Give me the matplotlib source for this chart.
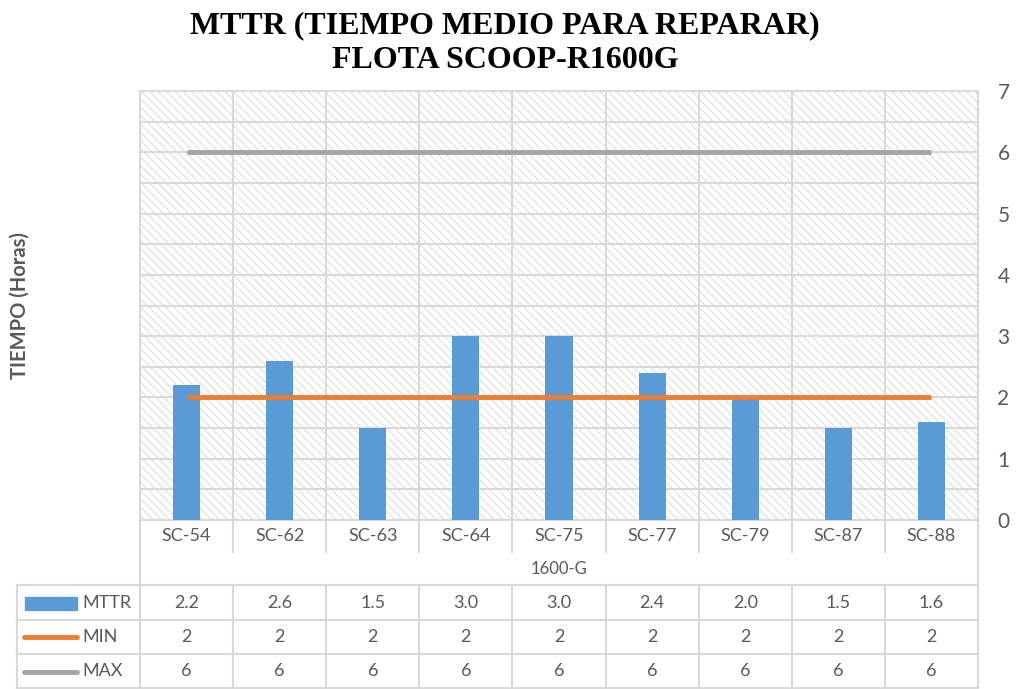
import matplotlib.pyplot as plt
import matplotlib.transforms as mtransforms
from matplotlib.patches import Rectangle
from matplotlib.lines import Line2D

# Data
units = ["SC-54", "SC-62", "SC-63", "SC-64", "SC-75", "SC-77", "SC-79", "SC-87", "SC-88"]
mttr = [2.2, 2.6, 1.5, 3.0, 3.0, 2.4, 2.0, 1.5, 1.6]
min_vals = [2, 2, 2, 2, 2, 2, 2, 2, 2]
max_vals = [6, 6, 6, 6, 6, 6, 6, 6, 6]
group_label = "1600-G"

BLUE = "#5B9BD5"
ORANGE = "#ED7D31"
GRAY = "#A5A5A5"
GRID = "#D9D9D9"
TXT = "#595959"

plt.rcParams["font.family"] = ["Lato", "DejaVu Sans"]
plt.rcParams["hatch.color"] = "#E2E2E2"
plt.rcParams["hatch.linewidth"] = 0.9

W, H = 1018, 689
fig = plt.figure(figsize=(W / 100, H / 100), dpi=100)


def fx(px):
    return px / W


def fy(py):
    return 1 - py / H


left, right, top, bottom = 140, 978, 91, 520
ax = fig.add_axes([fx(left), fy(bottom), fx(right - left), (bottom - top) / H])

n = len(units)
x = list(range(n))

# hatched background
ax.add_patch(Rectangle((0, 0), 1, 1, transform=ax.transAxes, facecolor="white",
                       edgecolor="#E2E2E2", hatch="\\\\\\\\", lw=0, zorder=0))

ax.bar(x, mttr, width=0.29, color=BLUE, zorder=3)
ax.plot(x, min_vals, color=ORANGE, lw=3.5, zorder=4, solid_capstyle="butt")
ax.plot(x, max_vals, color=GRAY, lw=3.5, zorder=4, solid_capstyle="butt")

ax.set_xlim(-0.5, n - 0.5)
ax.set_ylim(0, 7)
ax.set_yticks(range(0, 8))
ax.set_yticks([i + 0.5 for i in range(7)], minor=True)
ax.yaxis.tick_right()
ax.tick_params(axis="y", which="both", length=0, pad=14, labelsize=15, labelcolor=TXT)
ax.set_xticks([])
ax.grid(axis="y", which="both", color=GRID, lw=1.5, zorder=1)
for b in range(n + 1):
    ax.axvline(b - 0.5, color=GRID, lw=1.5, zorder=1)
for s in ax.spines.values():
    s.set_color(GRID)
    s.set_linewidth(1.5)

# table under the chart: x in data, y in figure
tr = mtransforms.blended_transform_factory(ax.transData, fig.transFigure)
rows_y = [520, 552, 585, 620, 654, 689]

# category row
for i, u in enumerate(units):
    ax.text(i, fy(536), u, transform=tr, ha="center", va="center", fontsize=13, color=TXT)
for b in range(n + 1):
    ax.add_line(Line2D([b - 0.5, b - 0.5], [fy(520), fy(552)], transform=tr,
                       color=GRID, lw=1.5, clip_on=False))
# group row
ax.text((n - 1) / 2, fy(569), group_label, transform=tr, ha="center", va="center",
        fontsize=12, color=TXT)
for b in (0, n):
    ax.add_line(Line2D([b - 0.5, b - 0.5], [fy(552), fy(585)], transform=tr,
                       color=GRID, lw=1.5, clip_on=False))

# data rows
series = [("MTTR", mttr, "{:.1f}"), ("MIN", min_vals, "{:d}"), ("MAX", max_vals, "{:d}")]
for r, (name, vals, fmt) in enumerate(series):
    y0, y1 = rows_y[2 + r], rows_y[3 + r]
    yc = fy((y0 + y1) / 2)
    for i, v in enumerate(vals):
        ax.text(i, yc, fmt.format(v), transform=tr, ha="center", va="center",
                fontsize=13, color=TXT)
    fig.text(fx(82), yc, name, ha="left", va="center", fontsize=13, color=TXT)
    for b in range(n + 1):
        ax.add_line(Line2D([b - 0.5, b - 0.5], [fy(y0), fy(y1)], transform=tr,
                           color=GRID, lw=1.5, clip_on=False))
    fig.add_artist(Line2D([fx(17), fx(17)], [fy(y0), fy(y1)], color=GRID, lw=1.5))
    fig.add_artist(Line2D([fx(17), fx(right)], [fy(y0), fy(y0)], color=GRID, lw=1.5))
fig.add_artist(Line2D([fx(17), fx(right)], [fy(688), fy(688)], color=GRID, lw=1.5))

# legend keys in table
fig.add_artist(Rectangle((fx(25), fy(610)), fx(52), 13 / H, color=BLUE))
fig.add_artist(Line2D([fx(24), fx(77)], [fy(637), fy(637)], color=ORANGE, lw=3.5,
                      solid_capstyle="round"))
fig.add_artist(Line2D([fx(24), fx(77)], [fy(672), fy(672)], color=GRAY, lw=3.5,
                      solid_capstyle="round"))

# y label and title
fig.text(fx(20), fy(306), "TIEMPO (Horas)", rotation=90, ha="center", va="center",
         fontsize=14.5, fontweight="bold", color=TXT)
fig.text(fx(505), fy(26), "MTTR (TIEMPO MEDIO PARA REPARAR)", ha="center", va="center",
         fontsize=23, fontweight="bold", family="Liberation Serif", color="black")
fig.text(fx(505), fy(61), "FLOTA SCOOP-R1600G", ha="center", va="center",
         fontsize=23, fontweight="bold", family="Liberation Serif", color="black")

fig.savefig("out.png", dpi=100)
